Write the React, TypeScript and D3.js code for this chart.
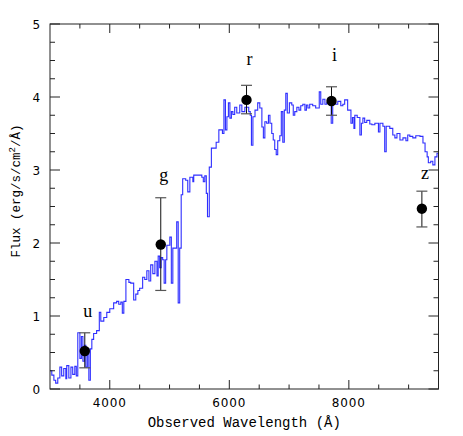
import React from 'react'
import * as d3 from 'd3'

const W = 463
const H = 436

// spectrum (step breakpoints, Angstrom) and flux
const wave = [
  3000, 3030, 3065, 3095, 3130, 3165, 3195, 3230, 3265, 3280, 3315, 3350, 3380, 3415, 3440,
  3465, 3500, 3525, 3550, 3575, 3600, 3625, 3650, 3675, 3700, 3730, 3780, 3825, 3850, 3900,
  3950, 4000, 4065, 4115, 4150, 4185, 4210, 4235, 4270, 4320, 4350, 4400, 4435, 4470, 4500,
  4550, 4585, 4620, 4655, 4685, 4720, 4755, 4790, 4810, 4835, 4860, 4885, 4910, 4935, 4955,
  5005, 5030, 5055, 5120, 5145, 5170, 5195, 5220, 5270, 5305, 5340, 5390, 5405, 5540, 5565,
  5590, 5615, 5635, 5665, 5700, 5740, 5780, 5825, 5885, 5910, 5935, 5960, 5985, 6010, 6035,
  6060, 6090, 6125, 6175, 6210, 6260, 6325, 6350, 6370, 6395, 6430, 6475, 6510, 6545, 6570,
  6595, 6625, 6655, 6680, 6710, 6735, 6760, 6785, 6810, 6845, 6870, 6895, 6920, 6945, 6970,
  7005, 7045, 7070, 7095, 7130, 7165, 7195, 7230, 7265, 7290, 7315, 7345, 7395, 7445, 7505,
  7530, 7565, 7600, 7630, 7680, 7705, 7730, 7780, 7815, 7865, 7900, 7930, 7980, 8035, 8060,
  8085, 8100, 8140, 8185, 8210, 8235, 8265, 8300, 8350, 8385, 8435, 8495, 8520, 8570, 8600,
  8625, 8685, 8735, 8770, 8805, 8855, 8905, 8955, 8985, 9020, 9070, 9120, 9190, 9240, 9275,
  9310, 9330, 9370, 9405, 9440, 9475, 9500,
]
const flux = [
  0.25, 0.19, 0.12, 0.08, 0.15, 0.3, 0.18, 0.28, 0.14, 0.32, 0.15, 0.3, 0.2, 0.31, 0.18,
  0.77, 0.42, 0.72, 0.38, 0.6, 0.3, 0.55, 0.12, 0.55, 0.68, 0.76, 0.8, 1.05, 0.93, 0.98,
  1.05, 1.1, 1.18, 1.2, 1.16, 1.19, 1.04, 1.2, 1.5, 1.46, 1.45, 1.22, 1.3, 1.35, 1.38,
  1.53, 1.5, 1.62, 1.48, 1.7, 1.58, 1.75, 1.55, 1.82, 1.66, 1.8, 1.77, 1.45, 1.77, 1.97,
  2.08, 1.45, 1.93, 2.29, 1.18, 1.93, 2.66, 2.88, 2.86, 2.7, 2.9, 2.84, 2.93, 2.9, 2.84,
  2.92, 2.68, 2.36, 3.04, 3.3, 3.3, 3.38, 3.55, 3.5, 3.96, 3.55, 3.73, 3.92, 3.71, 3.8,
  3.76, 3.86, 3.78, 3.89, 3.8, 3.86, 3.8, 3.75, 3.34, 3.73, 3.82, 3.92, 3.85, 3.59, 3.44,
  3.66, 3.64, 3.75, 3.64, 3.5, 3.41, 3.28, 3.21, 3.4, 3.47, 3.8, 3.38, 3.82, 4.05, 3.78,
  3.92, 3.89, 3.75, 3.8, 3.86, 3.82, 3.88, 3.9, 3.82, 3.89, 3.85, 3.9, 3.88, 3.85, 4.07,
  3.9, 3.97, 3.9, 3.92, 3.95, 3.64, 3.92, 3.9, 3.94, 3.88, 3.9, 3.96, 3.82, 3.64, 3.72,
  3.57, 3.75, 3.72, 3.48, 3.64, 3.71, 3.65, 3.68, 3.63, 3.62, 3.64, 3.52, 3.64, 3.6, 3.25,
  3.6, 3.57, 3.48, 3.44, 3.5, 3.41, 3.44, 3.4, 3.48, 3.46, 3.44, 3.47, 3.46, 3.37, 3.25,
  3.18, 3.1, 3.12, 3.07, 3.18, 3.23, 3.23,
]

// broadband photometry
const bands = ['u', 'g', 'r', 'i', 'z']
const bandWave = [3582, 4853, 6288, 7710, 9222]
const bandFlux = [0.52, 1.98, 3.96, 3.945, 2.47]
const bandLo = [0.29, 1.35, 3.77, 3.75, 2.22]
const bandHi = [0.77, 2.62, 4.16, 4.14, 2.71]
const labelFlux = [0.99, 2.85, 4.44, 4.5, 2.87]

const xMajor = [4000, 6000, 8000]
const xMinor = [3500, 4500, 5000, 5500, 6500, 7000, 7500, 8500, 9000]
const yMajor = [0, 1, 2, 3, 4, 5]
const yMinor = [0.25, 0.5, 0.75, 1.25, 1.5, 1.75, 2.25, 2.5, 2.75, 3.25, 3.5, 3.75, 4.25, 4.5, 4.75]

export default function App() {
  const x = d3.scaleLinear().domain([3000, 9500]).range([50, 438.5])
  const y = d3.scaleLinear().domain([0, 5]).range([389, 24])
  const [x0, x1] = x.range()
  const [y0, y1] = y.range()

  const line = d3
    .line<number>()
    .x((d, i) => x(wave[i]))
    .y((d) => y(d))
    .curve(d3.curveStepAfter)

  const tickFont = { fontFamily: 'DejaVu Sans', fontSize: 12, letterSpacing: 0.9 }
  const axisColor = '#222'

  return (
    <svg width={W} height={H} style={{ position: 'absolute', left: 0, top: 0, background: '#fff' }}>
      <defs>
        <clipPath id="plotClip">
          <rect x={x0} y={y1} width={x1 - x0} height={y0 - y1} />
        </clipPath>
      </defs>

      <path
        d={line(flux) || ''}
        fill="none"
        stroke="#2e2eff"
        strokeWidth={1.1}
        clipPath="url(#plotClip)"
      />

      {/* photometry points */}
      {bands.map((b, i) => {
        const cx = x(bandWave[i])
        return (
          <g key={b}>
            <line x1={cx} x2={cx} y1={y(bandLo[i])} y2={y(bandHi[i])} stroke="#111" strokeWidth={1} />
            <line x1={cx - 5.5} x2={cx + 5.5} y1={y(bandLo[i])} y2={y(bandLo[i])} stroke="#555" strokeWidth={1.2} />
            <line x1={cx - 5.5} x2={cx + 5.5} y1={y(bandHi[i])} y2={y(bandHi[i])} stroke="#555" strokeWidth={1.2} />
            <circle cx={cx} cy={y(bandFlux[i])} r={5.2} fill="#000" />
            <text
              x={cx + 3}
              y={y(labelFlux[i])}
              textAnchor="middle"
              fontFamily="Liberation Serif"
              fontSize={18}
            >
              {b}
            </text>
          </g>
        )
      })}

      {/* frame */}
      <rect x={x0} y={y1} width={x1 - x0} height={y0 - y1} fill="none" stroke={axisColor} strokeWidth={1} />

      {/* x ticks */}
      {xMajor.map((t) => (
        <g key={'xM' + t}>
          <line x1={x(t)} x2={x(t)} y1={y0} y2={y0 - 9} stroke={axisColor} />
          <line x1={x(t)} x2={x(t)} y1={y1} y2={y1 + 9} stroke={axisColor} />
          <text x={x(t)} y={407} textAnchor="middle" {...tickFont}>
            {t}
          </text>
        </g>
      ))}
      {xMinor.map((t) => (
        <g key={'xm' + t}>
          <line x1={x(t)} x2={x(t)} y1={y0} y2={y0 - 4.5} stroke={axisColor} />
          <line x1={x(t)} x2={x(t)} y1={y1} y2={y1 + 4.5} stroke={axisColor} />
        </g>
      ))}

      {/* y ticks */}
      {yMajor.map((t) => (
        <g key={'yM' + t}>
          <line x1={x0} x2={x0 + 10} y1={y(t)} y2={y(t)} stroke={axisColor} />
          <line x1={x1} x2={x1 - 10} y1={y(t)} y2={y(t)} stroke={axisColor} />
          <text x={41} y={y(t) + 4.5} textAnchor="end" {...tickFont}>
            {t}
          </text>
        </g>
      ))}
      {yMinor.map((t) => (
        <g key={'ym' + t}>
          <line x1={x0} x2={x0 + 5} y1={y(t)} y2={y(t)} stroke={axisColor} />
          <line x1={x1} x2={x1 - 5} y1={y(t)} y2={y(t)} stroke={axisColor} />
        </g>
      ))}

      {/* axis titles */}
      <text
        x={(x0 + x1) / 2}
        y={427}
        textAnchor="middle"
        fontFamily="Liberation Mono"
        fontSize={14}
      >
        Observed Wavelength (Å)
      </text>
      <text
        transform="translate(20, 191) rotate(-90)"
        textAnchor="middle"
        fontFamily="Liberation Mono"
        fontSize={12.5}
      >
        Flux (erg/s/cm
        <tspan fontSize={9} dy={-5}>
          2
        </tspan>
        <tspan dy={5}>/Å)</tspan>
      </text>
    </svg>
  )
}
